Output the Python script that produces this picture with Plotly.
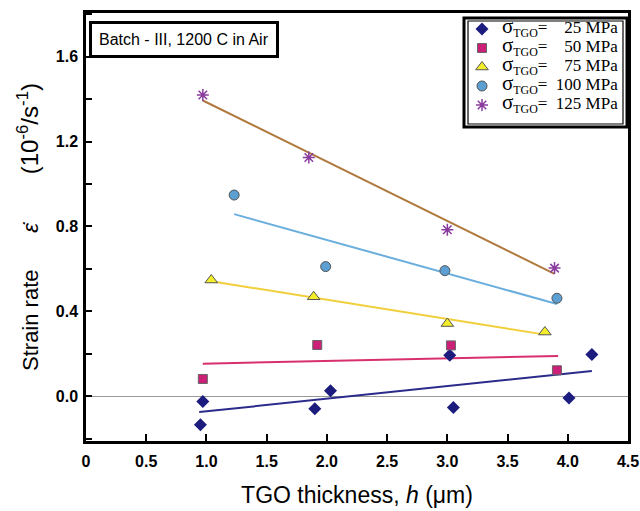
import plotly.graph_objects as go

# ---- data ----
x_25 = [0.97, 0.95, 1.90, 2.03, 3.02, 3.05, 4.01, 4.20]
y_25 = [-0.024, -0.134, -0.058, 0.027, 0.194, -0.052, -0.008, 0.197]
x_50 = [0.97, 1.92, 3.03, 3.91]
y_50 = [0.082, 0.242, 0.240, 0.123]
x_75 = [1.04, 1.89, 3.00, 3.81]
y_75 = [0.548, 0.469, 0.343, 0.303]
x_100 = [1.23, 1.99, 2.98, 3.91]
y_100 = [0.948, 0.611, 0.592, 0.462]
x_125 = [0.97, 1.85, 3.00, 3.89]
y_125 = [1.419, 1.125, 0.785, 0.604]

# trend line end points
fit_x_25 = [0.94, 4.20]
fit_y_25 = [-0.074, 0.120]
fit_x_50 = [0.97, 3.92]
fit_y_50 = [0.154, 0.190]
fit_x_75 = [1.04, 3.80]
fit_y_75 = [0.542, 0.292]
fit_x_100 = [1.23, 3.91]
fit_y_100 = [0.858, 0.435]
fit_x_125 = [0.97, 3.89]
fit_y_125 = [1.393, 0.577]

x_tickvals = [0, 0.5, 1.0, 1.5, 2.0, 2.5, 3.0, 3.5, 4.0, 4.5]
x_ticktext = ["0", "0.5", "1.0", "1.5", "2.0", "2.5", "3.0", "3.5", "4.0", "4.5"]
y_tickvals = [0.0, 0.4, 0.8, 1.2, 1.6]
y_ticktext = ["0.0", "0.4", "0.8", "1.2", "1.6"]

stress_values = ["\u2007\u200725", "\u2007\u200750", "\u2007\u200775", "\u2007100", "\u2007125"]
legend_names = [
    "<span style='font-size:21px'>σ</span><span style='font-size:17px'><sub>TGO</sub>=" + v + " MPa</span>"
    for v in stress_values
]

fig = go.Figure()

# fit lines
for fx, fy, col in [
    (fit_x_25, fit_y_25, "#2b2b8c"),
    (fit_x_50, fit_y_50, "#d8306e"),
    (fit_x_75, fit_y_75, "#f2cf3a"),
    (fit_x_100, fit_y_100, "#6aaede"),
    (fit_x_125, fit_y_125, "#b07a3e"),
]:
    fig.add_trace(go.Scatter(x=fx, y=fy, mode="lines", line=dict(color=col, width=2),
                             showlegend=False, hoverinfo="skip"))

fig.add_trace(go.Scatter(x=x_25, y=y_25, mode="markers", name=legend_names[0],
                         marker=dict(symbol="diamond", size=10, color="#1c1c7e",
                                     line=dict(width=0))))
fig.add_trace(go.Scatter(x=x_50, y=y_50, mode="markers", name=legend_names[1],
                         marker=dict(symbol="square", size=9, color="#cc1f78",
                                     line=dict(width=1, color="#666666"))))
fig.add_trace(go.Scatter(x=x_75, y=y_75, mode="markers", name=legend_names[2],
                         marker=dict(symbol="triangle-up", size=11, color="#f4ee2a",
                                     line=dict(width=1, color="#555555"))))
fig.add_trace(go.Scatter(x=x_100, y=y_100, mode="markers", name=legend_names[3],
                         marker=dict(symbol="circle", size=10, color="#5b9fd3",
                                     line=dict(width=1, color="#555555"))))
fig.add_trace(go.Scatter(x=x_125, y=y_125, mode="markers", name=legend_names[4],
                         marker=dict(symbol="asterisk-open", size=10, color="#8a3c9e",
                                     line=dict(width=1.5, color="#8a3c9e"))))

PL, PR, PT, PB = 86, 628, 13, 441


def px_x(p):
    return (p - PL) / (PR - PL)


def px_y(p):
    return (PB - p) / (PB - PT)


NB = "\u00a0"
y_title = ("Strain rate" + NB * 6 + "<i>ε\u0307</i>" + NB * 8 +
           "<span style='font-size:24px'>(10<sup>-6</sup>/s<sup>-1</sup>)</span>" + NB * 2)

fig.update_layout(
    width=640, height=511,
    margin=dict(l=PL, r=640 - PR, t=PT, b=511 - PB, autoexpand=False),
    paper_bgcolor="white", plot_bgcolor="white",
    font=dict(family="Arial, Liberation Sans", color="black"),
    showlegend=True,
    legend=dict(
        x=px_x(462), xanchor="left", y=px_y(67), yanchor="middle",
        bgcolor="rgba(0,0,0,0)", borderwidth=0,
        font=dict(family="Liberation Serif, Times New Roman", size=11, color="black"),
        tracegroupgap=0, itemwidth=30,
    ),
    shapes=[
        dict(type="rect", xref="paper", yref="paper", layer="above",
             x0=px_x(464), x1=px_x(627), y0=px_y(127), y1=px_y(18),
             line=dict(color="black", width=3), fillcolor="white"),
        dict(type="rect", xref="paper", yref="paper", layer="above",
             x0=px_x(468), x1=px_x(623), y0=px_y(124), y1=px_y(21),
             line=dict(color="black", width=1.2)),
    ],
    xaxis=dict(
        range=[0, 4.5], tickmode="array", tickvals=x_tickvals, ticktext=x_ticktext,
        ticks="inside", ticklen=7, tickwidth=2, tickcolor="black",
        showline=True, linecolor="black", linewidth=2.5, mirror=True,
        showgrid=False, zeroline=False, automargin=False,
        tickfont=dict(size=16, weight="bold", family="Arial, Liberation Sans"),
        ticklabelstandoff=4,
        title=dict(text="TGO thickness, <i>h</i> (μm)", font=dict(size=23), standoff=18),
    ),
    yaxis=dict(
        range=[-0.21, 1.805], tickmode="array", tickvals=y_tickvals, ticktext=y_ticktext,
        ticks="inside", ticklen=6, tickwidth=2, tickcolor="black",
        minor=dict(dtick=0.2, tick0=0, ticks="inside", ticklen=6, tickwidth=2, tickcolor="black"),
        showline=True, linecolor="black", linewidth=2.5, mirror=True,
        showgrid=False, zeroline=True, zerolinecolor="#999999", zerolinewidth=1.2,
        automargin=False,
        tickfont=dict(size=16, weight="bold", family="Arial, Liberation Sans"),
        ticklabelstandoff=2,
        title=dict(text=y_title, font=dict(size=22), standoff=12),
    ),
    annotations=[
        dict(
            xref="paper", yref="paper", x=px_x(89), y=px_y(21), xanchor="left", yanchor="top",
            text="Batch - III, 1200 C in Air", showarrow=False,
            font=dict(size=16, family="Arial, Liberation Sans", color="black"),
            bgcolor="white", bordercolor="black", borderwidth=3, borderpad=7,
        )
    ],
)

fig.write_html("out.html")
